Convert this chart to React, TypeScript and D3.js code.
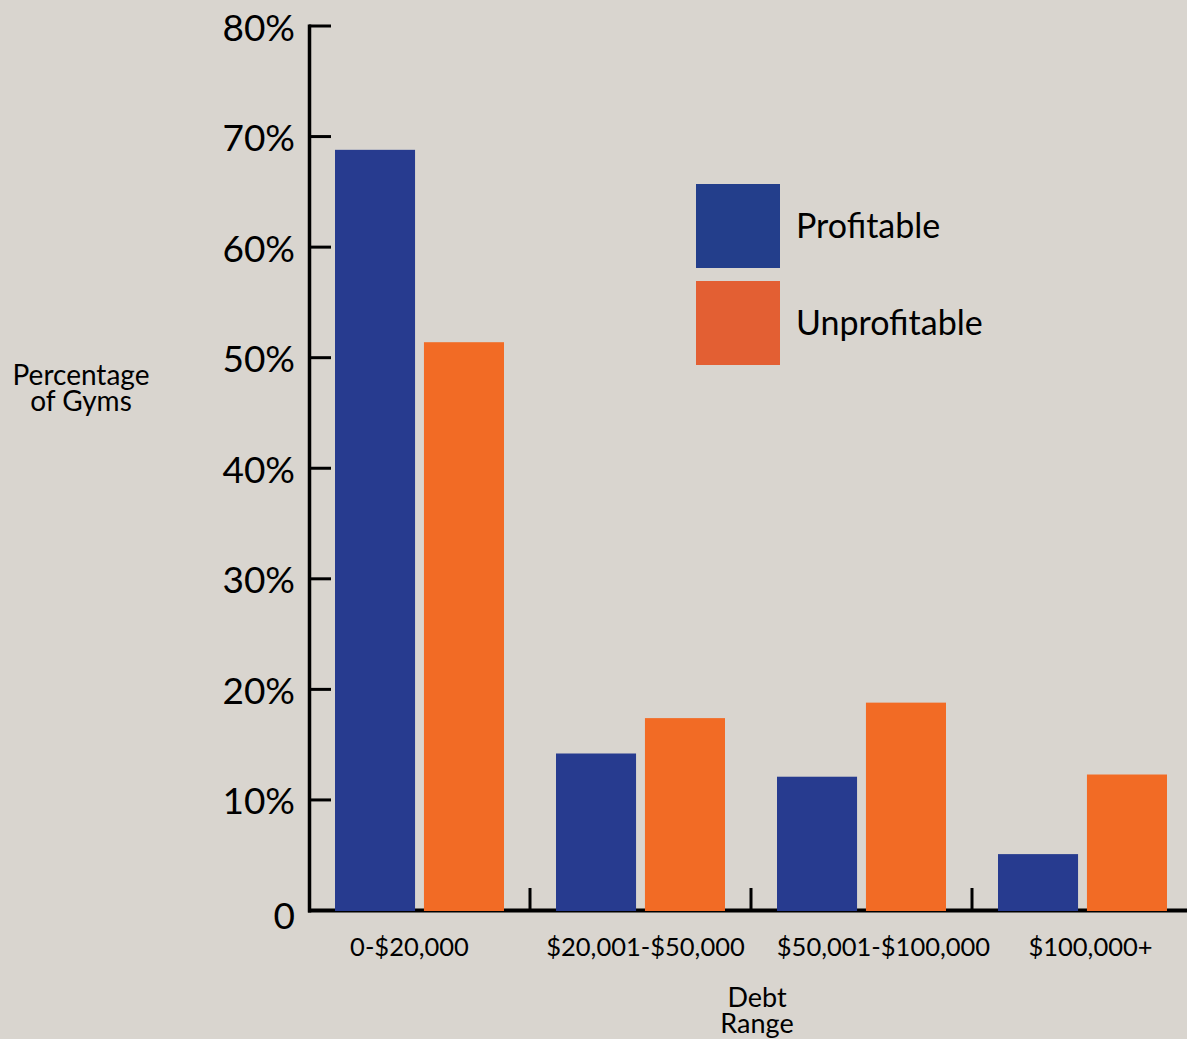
import React, { useEffect } from "react";
import * as d3 from "d3";

const categories = ["0-$20,000", "$20,001-$50,000", "$50,001-$100,000", "$100,000+"];
const seriesNames = ["Profitable", "Unprofitable"];
const profitable = [68.8, 14.2, 12.1, 5.1];
const unprofitable = [51.4, 17.4, 18.8, 12.3];
const yTicks = [0, 10, 20, 30, 40, 50, 60, 70, 80];

const W = 1187;
const H = 1039;
const BG = "#d9d5cf";
const barColors = ["#273b8f", "#f26b25"];
const legendColors = ["#233e8b", "#e35f33"];
const FONT = "Lato, 'Open Sans', sans-serif";
const labelDx = [-10, 5, 22, 8];

export default function App() {
  useEffect(() => {
    document.body.style.margin = "0";
    document.body.style.background = BG;
  }, []);

  const x0 = d3.scaleBand<string>().domain(categories).range([309, 1193]).padding(0);
  const x1 = d3.scaleBand<string>().domain(seriesNames).range([26, 195]).paddingInner(0.1);
  const y = d3.scaleLinear().domain([0, 80]).range([910.5, 26]);

  const data = categories.map((c, i) => ({ c, vals: [profitable[i], unprofitable[i]] }));

  return (
    <svg width={W} height={H} style={{ display: "block" }}>
      <rect x={0} y={0} width={W} height={H} fill={BG} />
      {/* axes */}
      <line x1={309.5} x2={309.5} y1={24.5} y2={912.5} stroke="#000" strokeWidth={3.5} />
      <line x1={308} x2={W} y1={910.5} y2={910.5} stroke="#000" strokeWidth={4} />
      {yTicks.slice(1).map((t) => (
        <line key={t} x1={309} x2={331} y1={y(t)} y2={y(t)} stroke="#000" strokeWidth={3} />
      ))}
      {yTicks.map((t) => (
        <text
          key={"l" + t}
          x={295}
          y={y(t) + (t === 0 ? 4 : 0)}
          textAnchor="end"
          dominantBaseline="central"
          fontFamily={FONT}
          fontSize={37}
          fill="#000"
        >
          {t === 0 ? "0" : `${t}%`}
        </text>
      ))}
      {categories.slice(1).map((c) => (
        <line
          key={"xt" + c}
          x1={x0(c)!}
          x2={x0(c)!}
          y1={888}
          y2={911}
          stroke="#000"
          strokeWidth={3}
        />
      ))}
      {/* bars */}
      {data.map((d) =>
        d.vals.map((v, j) => (
          <rect
            key={d.c + j}
            x={x0(d.c)! + x1(seriesNames[j])!}
            y={y(v)}
            width={x1.bandwidth()}
            height={y(0) + 0.5 - y(v)}
            fill={barColors[j]}
          />
        ))
      )}
      {/* x labels */}
      {categories.map((c, i) => (
        <text
          key={"xl" + c}
          x={x0(c)! + x0.bandwidth() / 2 + labelDx[i]}
          y={946}
          textAnchor="middle"
          dominantBaseline="central"
          fontFamily={FONT}
          fontSize={25.5}
          fill="#000"
        >
          {c}
        </text>
      ))}
      {/* axis titles */}
      <text x={81} y={385} textAnchor="middle" fontFamily={FONT} fontSize={28} fill="#000">
        Percentage
      </text>
      <text x={81} y={411} textAnchor="middle" fontFamily={FONT} fontSize={28} fill="#000">
        of Gyms
      </text>
      <text x={757} y={1007} textAnchor="middle" fontFamily={FONT} fontSize={27} fill="#000">
        Debt
      </text>
      <text x={757} y={1033} textAnchor="middle" fontFamily={FONT} fontSize={27} fill="#000">
        Range
      </text>
      {/* legend */}
      {seriesNames.map((s, j) => (
        <g key={"lg" + s} transform={`translate(696, ${184 + j * 97})`}>
          <rect x={0} y={0} width={84} height={84} fill={legendColors[j]} />
          <text x={100} y={40} dominantBaseline="central" fontFamily={FONT} fontSize={34} fill="#000">
            {s}
          </text>
        </g>
      ))}
    </svg>
  );
}
